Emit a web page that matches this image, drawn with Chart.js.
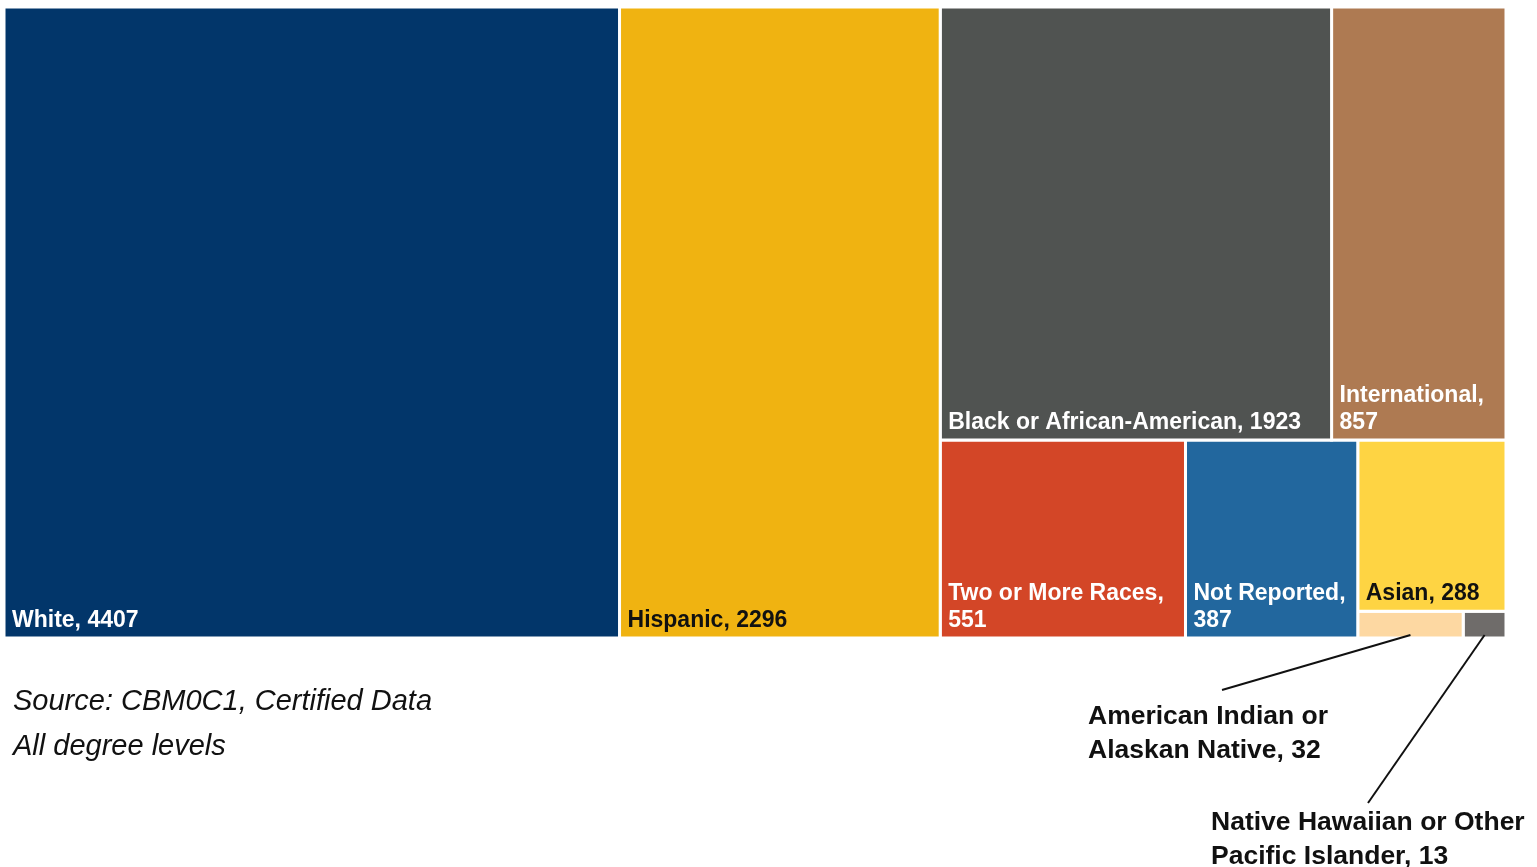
<!DOCTYPE html>
<html>
<head>
<meta charset="utf-8">
<script src="https://cdn.jsdelivr.net/npm/chart.js@4.4.1/dist/chart.umd.min.js"></script>
<style>
body { margin: 0; background: #fff; }
#wrap { width: 1537px; height: 867px; }
</style>
</head>
<body>
<div id="wrap"><canvas id="treeChart" width="1537" height="867"></canvas></div>
<script>
var categories = ['White', 'Hispanic', 'Black or African-American', 'International', 'Two or More Races', 'Not Reported', 'Asian', 'American Indian or Alaskan Native', 'Native Hawaiian or Other Pacific Islander'];
var counts = [4407, 2296, 1923, 857, 551, 387, 288, 32, 13];
var cellColors = ['#02366A', '#F0B311', '#505351', '#AE7A52', '#D34627', '#22679E', '#FED443', '#FDD8A2', '#6F6C6A'];
var labelColors = ['#fff', '#111', '#fff', '#fff', '#fff', '#fff', '#111', '#111', '#111'];
var notes = ['Source: CBM0C1, Certified Data', 'All degree levels'];

var FONT = '"Liberation Sans", Arial, sans-serif';

// layout box in data units, the scales map it onto the chart area
var boxW = 2.5, boxH = 1;

function sum(arr) {
	return arr.reduce(function(a, b) { return a + b; }, 0);
}

// mean aspect ratio of the cells in a strip running along `side`
function meanRatio(row, side) {
	var thick = sum(row) / side;
	var total = 0;
	row.forEach(function(a) {
		var len = a / thick;
		total += Math.max(len / thick, thick / len);
	});
	return total / row.length;
}

// squarified-style treemap (strips along the short side)
function squarify(values, x, y, w, h) {
	var grand = sum(values);
	var areas = values.map(function(v) { return v / grand * w * h; });
	var rects = [];
	var i = 0;
	while (i < areas.length) {
		var side = Math.min(w, h);
		var row = [areas[i]], j = i + 1;
		while (j < areas.length && meanRatio(row.concat([areas[j]]), side) <= meanRatio(row, side)) {
			row.push(areas[j]);
			j++;
		}
		var rowSum = sum(row), t, pos;
		if (w >= h) {
			t = rowSum / h; pos = y;
			row.forEach(function(a) {
				var len = a / t;
				rects.push({ x0: x, x1: x + t, y0: pos, y1: pos + len });
				pos += len;
			});
			x += t; w -= t;
		} else {
			t = rowSum / w; pos = x;
			row.forEach(function(a) {
				var len = a / t;
				rects.push({ x0: pos, x1: pos + len, y0: y, y1: y + t });
				pos += len;
			});
			y += t; h -= t;
		}
		i = j;
	}
	return rects;
}

var cells = squarify(counts, 0, 0, boxW, boxH);

var datasets = cells.map(function(r, i) {
	return {
		label: categories[i],
		data: [
			{ x: r.x0, y: r.y0 }, { x: r.x1, y: r.y0 },
			{ x: r.x1, y: r.y1 }, { x: r.x0, y: r.y1 }, { x: r.x0, y: r.y0 }
		],
		backgroundColor: cellColors[i],
		borderColor: '#fff',
		borderWidth: 3,
		fill: 'shape',
		pointRadius: 0,
		tension: 0
	};
});

function wrapText(ctx, text, maxW) {
	var words = text.split(' '), lines = [], cur = '';
	words.forEach(function(w) {
		var test = cur ? cur + ' ' + w : w;
		if (cur && ctx.measureText(test).width > maxW) {
			lines.push(cur);
			cur = w;
		} else {
			cur = test;
		}
	});
	if (cur) lines.push(cur);
	return lines;
}

// labels for cells too small to hold their text
var callouts = {
	7: { x: 1088, y: 724, maxW: 260, lineX: 1222, lineY: 690 },
	8: { x: 1211, y: 830, maxW: 335, lineX: 1368, lineY: 803 }
};

var labelPlugin = {
	id: 'cellLabels',
	afterDraw: function(chart) {
		var ctx = chart.ctx, xs = chart.scales.x, ys = chart.scales.y;
		ctx.save();
		ctx.textBaseline = 'alphabetic';
		ctx.textAlign = 'left';
		cells.forEach(function(r, i) {
			var px0 = xs.getPixelForValue(r.x0), px1 = xs.getPixelForValue(r.x1);
			var py0 = ys.getPixelForValue(r.y0), py1 = ys.getPixelForValue(r.y1);
			var text = categories[i] + ', ' + counts[i];
			var c = callouts[i];
			if (c) {
				ctx.font = 'bold 26.5px ' + FONT;
				ctx.fillStyle = '#111';
				var lines = wrapText(ctx, text, c.maxW);
				lines.forEach(function(l, k) { ctx.fillText(l, c.x, c.y + k * 34); });
				ctx.strokeStyle = '#111';
				ctx.lineWidth = 2;
				ctx.beginPath();
				ctx.moveTo(c.lineX, c.lineY);
				ctx.lineTo((px0 + px1) / 2, py1 - 3);
				ctx.stroke();
			} else {
				ctx.font = 'bold 23px ' + FONT;
				ctx.fillStyle = labelColors[i];
				var lines2 = wrapText(ctx, text, px1 - px0 - 16);
				var base = py1 - 11;
				for (var k = lines2.length - 1; k >= 0; k--) {
					ctx.fillText(lines2[k], px0 + 8, base);
					base -= 27;
				}
			}
		});
		ctx.font = 'italic 29px ' + FONT;
		ctx.fillStyle = '#111';
		notes.forEach(function(n, k) { ctx.fillText(n, 13, 710 + k * 45); });
		ctx.restore();
	}
};

var treeChart = new Chart(document.getElementById('treeChart'), {
	type: 'line',
	data: { datasets: datasets },
	options: {
		responsive: false,
		animation: false,
		events: [],
		layout: { padding: { left: 4, top: 7, right: 31, bottom: 229 } },
		elements: { line: { borderJoinStyle: 'miter' } },
		plugins: { legend: { display: false }, tooltip: { enabled: false } },
		scales: {
			x: { type: 'linear', min: 0, max: boxW, display: false },
			y: { type: 'linear', min: 0, max: boxH, reverse: true, display: false }
		}
	},
	plugins: [labelPlugin]
});
</script>
</body>
</html>
